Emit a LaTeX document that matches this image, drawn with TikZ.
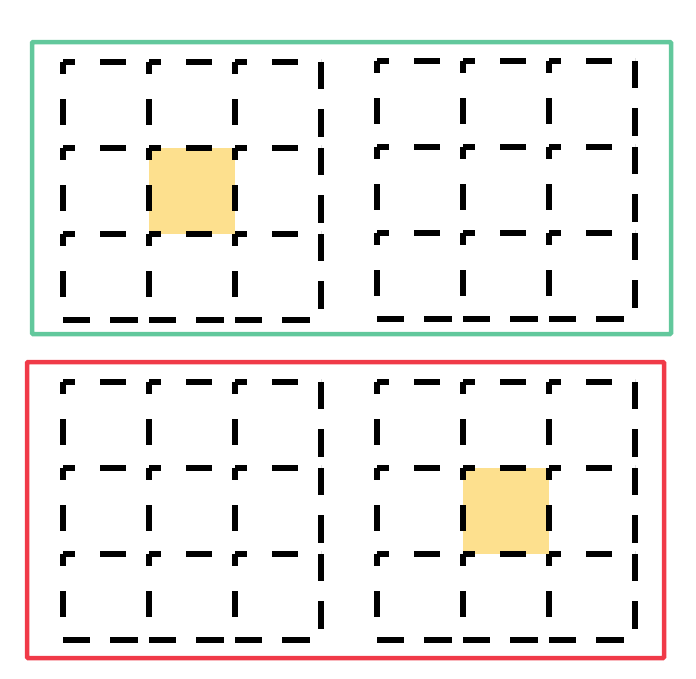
\documentclass[tikz,border=0pt]{standalone}
\usetikzlibrary{calc}
\definecolor{boxgreen}{RGB}{98,200,156}
\definecolor{boxred}{RGB}{240,58,72}
\definecolor{cellyellow}{RGB}{253,224,142}
\tikzset{
  gridline/.style={line width=5.2pt, dash pattern=on 12pt off 25pt on 26pt off 23pt},
  edgeline/.style={line width=5.2pt, dash pattern=on 27pt off 20pt on 28pt off 11pt},
  frame/.style={line width=4.5pt, rounded corners=1pt},
  pics/dgrid/.style={code={
    \foreach \i in {0,1,2} {
      \draw[gridline] (0,\i*86) -- (258,\i*86);
      \draw[gridline] (\i*86,0) -- (\i*86,258);
    }
    \draw[edgeline] (0,258) -- (258,258);
    \draw[edgeline] (258,0) -- (258,258);
  }},
  pics/hicell/.style={code={
    \fill[cellyellow] (86,86) rectangle (172,172);
  }}
}
\begin{document}
\begin{tikzpicture}[x=1pt,y=-1pt]
  \fill[white] (0,0) rectangle (696,678);
  \useasboundingbox (0,0) rectangle (696,678);
  % highlighted cells
  \pic at (63,62) {hicell};
  \pic at (377,382) {hicell};
  % grids
  \pic at (63,62) {dgrid};
  \pic at (377,61) {dgrid};
  \pic at (63,382) {dgrid};
  \pic at (377,382) {dgrid};
  % frames
  \draw[frame, boxgreen] (32,42) rectangle (671,334);
  \draw[frame, boxred] (27,362) rectangle (664,658);
\end{tikzpicture}
\end{document}
